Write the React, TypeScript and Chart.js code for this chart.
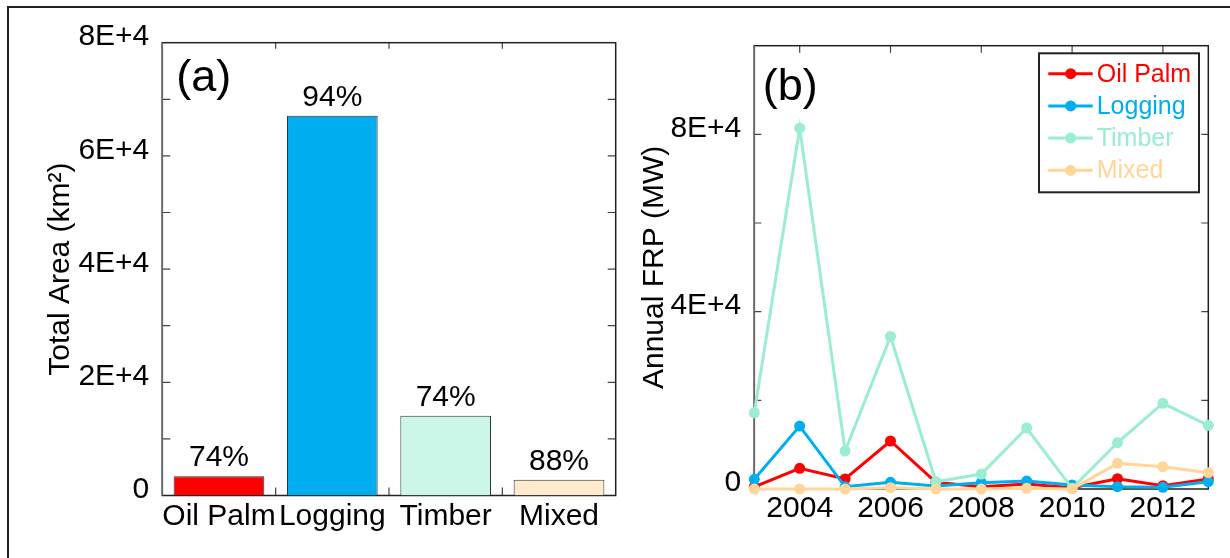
import React, { useEffect, useRef } from 'react';
import { Chart, registerables } from 'chart.js';

Chart.register(...registerables);

// ---------- data ----------
const categories = ['Oil Palm', 'Logging', 'Timber', 'Mixed'];
const totalArea = [3390, 67100, 14100, 2790];
const areaPercent = ['74%', '94%', '74%', '88%'];
const areaTickValues = [0, 20000, 40000, 60000, 80000];
const areaTickLabels = ['0', '2E+4', '4E+4', '6E+4', '8E+4'];
const areaMinorTicks = [10000, 20000, 30000, 40000, 50000, 60000, 70000];

const years = [2003, 2004, 2005, 2006, 2007, 2008, 2009, 2010, 2011, 2012, 2013];
const yearTickValues = [2004, 2006, 2008, 2010, 2012];
const frpTickValues = [0, 40000, 80000];
const frpTickLabels = ['0', '4E+4', '8E+4'];
const frpMinorTicks = [20000, 40000, 60000, 80000];

const oilPalmFRP = [500, 4670, 2260, 10830, 1500, 520, 1130, 300, 2330, 750, 2260];
const loggingFRP = [2180, 14200, 500, 1500, 700, 1420, 1800, 900, 520, 380, 1650];
const timberFRP = [17200, 81400, 8570, 34400, 1650, 3380, 13760, 150, 10450, 19330, 14360];
const mixedFRP = [0, 0, 0, 300, 0, 0, 150, 0, 5790, 5040, 3680];

const lineColors = ['#FF0000', '#00AEEF', '#9AEDD0', '#FFD59A'];
const barColors = ['#FF0000', '#00AEEF', '#CCF6E7', '#FFEACC'];

// ---------- styling ----------
const FONT_FAMILY = "'Liberation Sans', Arial, sans-serif";
const tickFont = { family: FONT_FAMILY, size: 30 };
const titleFont = { family: FONT_FAMILY, size: 30 };

function makeFramePlugin(cfg: {
  yMinor: number[];
  xTicks: (chart: any) => number[];
  yLen: number;
  xTopLen: number;
  xBottomLen: number;
}) {
  return {
    id: 'frame',
    beforeDatasetsDraw(chart: any) {
      const { ctx, chartArea } = chart;
      const { left, right, top, bottom } = chartArea;
      ctx.save();
      ctx.strokeStyle = '#444';
      ctx.lineWidth = 1.2;
      const ys = chart.scales.y;
      ctx.beginPath();
      for (const v of cfg.yMinor) {
        const p = ys.getPixelForValue(v);
        ctx.moveTo(left, p);
        ctx.lineTo(left + cfg.yLen, p);
        ctx.moveTo(right, p);
        ctx.lineTo(right - cfg.yLen, p);
      }
      for (const px of cfg.xTicks(chart)) {
        ctx.moveTo(px, top);
        ctx.lineTo(px, top + cfg.xTopLen);
        ctx.moveTo(px, bottom);
        ctx.lineTo(px, bottom - cfg.xBottomLen);
      }
      ctx.stroke();
      ctx.strokeStyle = '#222';
      ctx.lineWidth = 1.5;
      ctx.strokeRect(left, top, right - left, bottom - top);
      ctx.strokeStyle = '#666';
      ctx.beginPath();
      ctx.moveTo(left, top);
      ctx.lineTo(left, bottom);
      ctx.stroke();
      ctx.restore();
    },
  };
}

function makePanelLabel(text: string, dx: number, dy: number) {
  return {
    id: 'panelLabel',
    afterDatasetsDraw(chart: any) {
      const { ctx, chartArea } = chart;
      ctx.save();
      ctx.font = `45px ${FONT_FAMILY}`;
      ctx.fillStyle = '#000';
      ctx.textAlign = 'left';
      ctx.textBaseline = 'alphabetic';
      ctx.fillText(text, chartArea.left + dx, chartArea.top + dy);
      ctx.restore();
    },
  };
}

const barLabelPlugin = {
  id: 'barLabels',
  afterDatasetsDraw(chart: any) {
    const { ctx } = chart;
    const meta = chart.getDatasetMeta(0);
    ctx.save();
    ctx.font = `30px ${FONT_FAMILY}`;
    ctx.fillStyle = '#000';
    ctx.textAlign = 'center';
    ctx.textBaseline = 'alphabetic';
    meta.data.forEach((bar: any, i: number) => {
      ctx.fillText(areaPercent[i], bar.x, bar.y - 10);
    });
    ctx.restore();
  },
};

const lineLegendPlugin = {
  id: 'lineLegend',
  afterDatasetsDraw(chart: any) {
    const { ctx, chartArea } = chart;
    const boxW = 160;
    const boxH = 139;
    const bx = chartArea.right - 9.3 - boxW;
    const by = chartArea.top + 7.6;
    ctx.save();
    ctx.fillStyle = '#fff';
    ctx.fillRect(bx, by, boxW, boxH);
    ctx.strokeStyle = '#222';
    ctx.lineWidth = 2;
    ctx.strokeRect(bx, by, boxW, boxH);
    ctx.font = `25px ${FONT_FAMILY}`;
    ctx.textAlign = 'left';
    ctx.textBaseline = 'middle';
    chart.data.datasets.forEach((ds: any, i: number) => {
      const y = by + 20.4 + i * 32.2;
      ctx.strokeStyle = ds.borderColor;
      ctx.lineWidth = 3;
      ctx.beginPath();
      ctx.moveTo(bx + 9.3, y);
      ctx.lineTo(bx + 53.7, y);
      ctx.stroke();
      ctx.fillStyle = ds.borderColor;
      ctx.beginPath();
      ctx.arc(bx + 31.7, y, 5.5, 0, Math.PI * 2);
      ctx.fill();
      ctx.fillText(ds.label, bx + 57.7, y + 1);
    });
    ctx.restore();
  },
};

export default function App() {
  const refA = useRef<HTMLCanvasElement>(null);
  const refB = useRef<HTMLCanvasElement>(null);

  useEffect(() => {
    if (!refA.current || !refB.current) return;

    const chartA = new Chart(refA.current, {
      type: 'bar',
      data: {
        labels: categories,
        datasets: [
          {
            data: totalArea,
            backgroundColor: barColors,
            borderColor: '#333',
            borderWidth: 1,
            barPercentage: 0.8,
            categoryPercentage: 1,
          },
        ],
      },
      options: {
        responsive: false,
        maintainAspectRatio: false,
        animation: false,
        layout: { padding: { left: 0, right: 4.3, top: 42.7, bottom: 0 } },
        plugins: { legend: { display: false }, tooltip: { enabled: false } },
        scales: {
          x: {
            grid: { display: false, drawTicks: false },
            border: { display: false },
            ticks: { font: tickFont, color: '#000', padding: 3, autoSkip: false, maxRotation: 0, minRotation: 0 },
            afterFit: (s: any) => {
              s.height = 62.5;
            },
          },
          y: {
            min: 0,
            max: 80000,
            grid: { display: false, drawTicks: false },
            border: { display: false },
            afterBuildTicks: (s: any) => {
              s.ticks = areaTickValues.map((v) => ({ value: v }));
            },
            ticks: {
              font: tickFont,
              color: '#000',
              padding: 13,
              labelOffset: -5.5,
              autoSkip: false,
              callback: (v: any) => {
                const i = areaTickValues.indexOf(Number(v));
                return i >= 0 ? areaTickLabels[i] : '';
              },
            },
            title: {
              display: true,
              text: 'Total Area (km²)',
              font: titleFont,
              color: '#000',
              padding: { top: 43, bottom: 0 },
            },
            afterFit: (s: any) => {
              s.width = 162.3;
            },
          },
        },
      } as any,
      plugins: [
        makeFramePlugin({
          yMinor: areaMinorTicks,
          xTicks: (chart: any) => {
            const xs = chart.scales.x;
            const out: number[] = [];
            for (let i = 0; i < categories.length - 1; i++) {
              out.push((xs.getPixelForValue(i) + xs.getPixelForValue(i + 1)) / 2);
            }
            return out;
          },
          yLen: 8,
          xTopLen: 6,
          xBottomLen: 8,
        }),
        barLabelPlugin,
        makePanelLabel('(a)', 14, 48.5),
      ],
    });

    const seriesData = [oilPalmFRP, loggingFRP, timberFRP, mixedFRP];
    const chartB = new Chart(refB.current, {
      type: 'line',
      data: {
        datasets: categories.map((name, k) => ({
          label: name,
          data: years.map((yr, i) => ({ x: yr, y: seriesData[k][i] })),
          borderColor: lineColors[k],
          backgroundColor: lineColors[k],
          pointBackgroundColor: lineColors[k],
          pointBorderWidth: 0,
          pointRadius: 5.5,
          borderWidth: 3,
          tension: 0,
          clip: false,
          order: categories.length - 1 - k,
        })),
      },
      options: {
        responsive: false,
        maintainAspectRatio: false,
        animation: false,
        layout: { padding: { left: 0, right: 21.7, top: 45.7, bottom: 0 } },
        plugins: { legend: { display: false }, tooltip: { enabled: false } },
        scales: {
          x: {
            type: 'linear',
            min: 2003,
            max: 2013,
            grid: { display: false, drawTicks: false },
            border: { display: false },
            afterBuildTicks: (s: any) => {
              s.ticks = yearTickValues.map((v) => ({ value: v }));
            },
            ticks: {
              font: tickFont,
              color: '#000',
              padding: 2,
              autoSkip: false,
              maxRotation: 0,
              minRotation: 0,
              callback: (v: any) => String(v),
            },
            afterFit: (s: any) => {
              s.height = 69;
            },
          },
          y: {
            min: 0,
            max: 100000,
            grid: { display: false, drawTicks: false },
            border: { display: false },
            afterBuildTicks: (s: any) => {
              s.ticks = frpTickValues.map((v) => ({ value: v }));
            },
            ticks: {
              font: tickFont,
              color: '#000',
              padding: 13,
              labelOffset: -6,
              autoSkip: false,
              callback: (v: any) => {
                const i = frpTickValues.indexOf(Number(v));
                return i >= 0 ? frpTickLabels[i] : '';
              },
            },
            title: {
              display: true,
              text: 'Annual FRP (MW)',
              font: titleFont,
              color: '#000',
              padding: { top: 17, bottom: 0 },
            },
            afterFit: (s: any) => {
              s.width = 134.3;
            },
          },
        },
      } as any,
      plugins: [
        makeFramePlugin({
          yMinor: frpMinorTicks,
          xTicks: (chart: any) => yearTickValues.map((v) => chart.scales.x.getPixelForValue(v)),
          yLen: 7,
          xTopLen: 7,
          xBottomLen: 4,
        }),
        lineLegendPlugin,
        makePanelLabel('(b)', 8.4, 54),
      ],
    });

    return () => {
      chartA.destroy();
      chartB.destroy();
    };
  }, []);

  return (
    <div
      style={{
        position: 'fixed',
        left: 0,
        top: 0,
        width: 1230,
        height: 558,
        overflow: 'hidden',
        background: '#fff',
      }}
    >
      <div
        style={{
          position: 'absolute',
          left: 7,
          top: 5.5,
          width: 1400,
          height: 700,
          borderTop: '2px solid #222',
          borderLeft: '2px solid #222',
        }}
      />
      <canvas
        ref={refA}
        width={620}
        height={558}
        style={{ position: 'absolute', left: 0, top: 0, width: 620, height: 558 }}
      />
      <canvas
        ref={refB}
        width={610}
        height={558}
        style={{ position: 'absolute', left: 620, top: 0, width: 610, height: 558 }}
      />
    </div>
  );
}
